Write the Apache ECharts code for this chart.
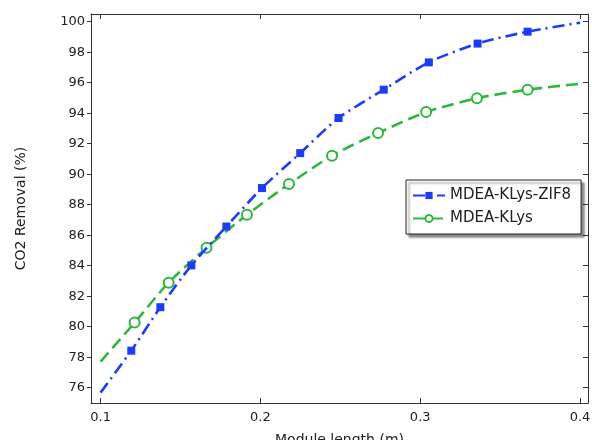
<!DOCTYPE html>
<html>
<head>
<meta charset="utf-8">
<script src="https://cdn.jsdelivr.net/npm/echarts@6/dist/echarts.min.js"></script>
<style>
  html, body { margin: 0; padding: 0; background: #fff; }
  #chart { width: 592px; height: 440px; }
</style>
</head>
<body>
<div id="chart"></div>
<script>
/* CO2 removal vs module length */

const xTicks = [0.1, 0.2, 0.3, 0.4];
const yTicks = [76, 78, 80, 82, 84, 86, 88, 90, 92, 94, 96, 98, 100];

// MDEA-KLys-ZIF8 (first and last are line ends, no marker)
const ziflX = [0.100, 0.1192, 0.1374, 0.1568, 0.1787, 0.2010, 0.2249, 0.2489, 0.2772, 0.3054, 0.3359, 0.3672, 0.400];
const ziflY = [75.68, 78.43, 81.28, 84.02, 86.57, 89.09, 91.38, 93.68, 95.54, 97.33, 98.56, 99.34, 99.93];

// MDEA-KLys
const klysX = [0.100, 0.1213, 0.1426, 0.1663, 0.1916, 0.2179, 0.2448, 0.2736, 0.3037, 0.3355, 0.3672, 0.400];
const klysY = [77.71, 80.27, 82.89, 85.17, 87.34, 89.35, 91.21, 92.70, 94.07, 94.98, 95.54, 95.93];

function toData(xs, ys) {
    return xs.map((x, i) => {
        const item = { value: [x, ys[i]] };
        if (i === 0 || i === xs.length - 1) item.symbol = "none";
        return item;
    });
}

const FONT = "DejaVu Sans";
const TXT = "#222";

const chart = echarts.init(document.getElementById("chart"), null, { renderer: "canvas" });

chart.setOption({
    animation: false,
    backgroundColor: "#fff",
    textStyle: { fontFamily: FONT, color: TXT },
    grid: { left: 91, right: 4, top: 14, bottom: 37, containLabel: false, outerBoundsMode: "none" },
    legend: {
        left: 406,
        top: 180,
        orient: "vertical",
        padding: [8, 10, 8, 6],
        itemGap: 8,
        itemWidth: 32,
        itemHeight: 9,
        backgroundColor: "#fff",
        borderColor: "#222",
        borderWidth: 1,
        shadowColor: "rgba(0,0,0,0.45)",
        shadowOffsetX: 3,
        shadowOffsetY: 3,
        shadowBlur: 2,
        textStyle: { fontFamily: FONT, fontSize: 15, color: TXT },
        data: ["MDEA-KLys-ZIF8", "MDEA-KLys"],
    },
    xAxis: [{
        type: "value",
        min: 0.094,
        max: 0.405,
        name: "Module length (m)",
        nameLocation: "middle",
        nameGap: 30,
        nameTextStyle: { fontFamily: FONT, fontSize: 14, color: TXT },
        axisLine: { lineStyle: { color: "#333", width: 1 } },
        axisTick: { inside: true, length: 5, customValues: xTicks, lineStyle: { color: "#333" } },
        axisLabel: { customValues: xTicks, margin: 8, fontSize: 13, color: TXT, fontFamily: FONT },
        splitLine: { show: false },
    }, {
        type: "value",
        position: "top",
        min: 0.094,
        max: 0.405,
        axisLine: { show: true, lineStyle: { color: "#333", width: 1 } },
        axisTick: { inside: true, length: 5, customValues: xTicks, lineStyle: { color: "#333" } },
        axisLabel: { show: false },
        splitLine: { show: false },
    }],
    yAxis: [{
        type: "value",
        min: 75,
        max: 100.5,
        name: "CO2 Removal (%)",
        nameLocation: "middle",
        nameGap: 63,
        nameTextStyle: { fontFamily: FONT, fontSize: 14, color: TXT },
        axisLine: { show: true, lineStyle: { color: "#333", width: 1 } },
        axisTick: { show: true, inside: false, length: 4, customValues: yTicks, lineStyle: { color: "#333" } },
        axisLabel: { customValues: yTicks, margin: 6, fontSize: 13, color: TXT, fontFamily: FONT },
        splitLine: { show: false },
    }, {
        type: "value",
        position: "right",
        min: 75,
        max: 100.5,
        axisLine: { show: true, lineStyle: { color: "#333", width: 1 } },
        axisTick: { show: true, inside: true, length: 5, customValues: yTicks, lineStyle: { color: "#333" } },
        axisLabel: { show: false },
        splitLine: { show: false },
    }],
    series: [{
        name: "MDEA-KLys-ZIF8",
        type: "line",
        xAxisIndex: 0,
        yAxisIndex: 0,
        smooth: 0.25,
        showAllSymbol: true,
        symbol: "rect",
        symbolSize: 8,
        itemStyle: { color: "#1b3bff" },
        lineStyle: { color: "#1b3bff", width: 2.6, type: [12, 5, 2, 5] },
        data: toData(ziflX, ziflY),
        z: 3,
    }, {
        name: "MDEA-KLys",
        type: "line",
        xAxisIndex: 0,
        yAxisIndex: 0,
        smooth: 0.25,
        showAllSymbol: true,
        symbol: "circle",
        symbolSize: 10,
        itemStyle: { color: "#fff", borderColor: "#2db83d", borderWidth: 2 },
        lineStyle: { color: "#2db83d", width: 2.6, type: [12, 6] },
        data: toData(klysX, klysY),
        z: 2,
    }],
});
</script>
</body>
</html>
